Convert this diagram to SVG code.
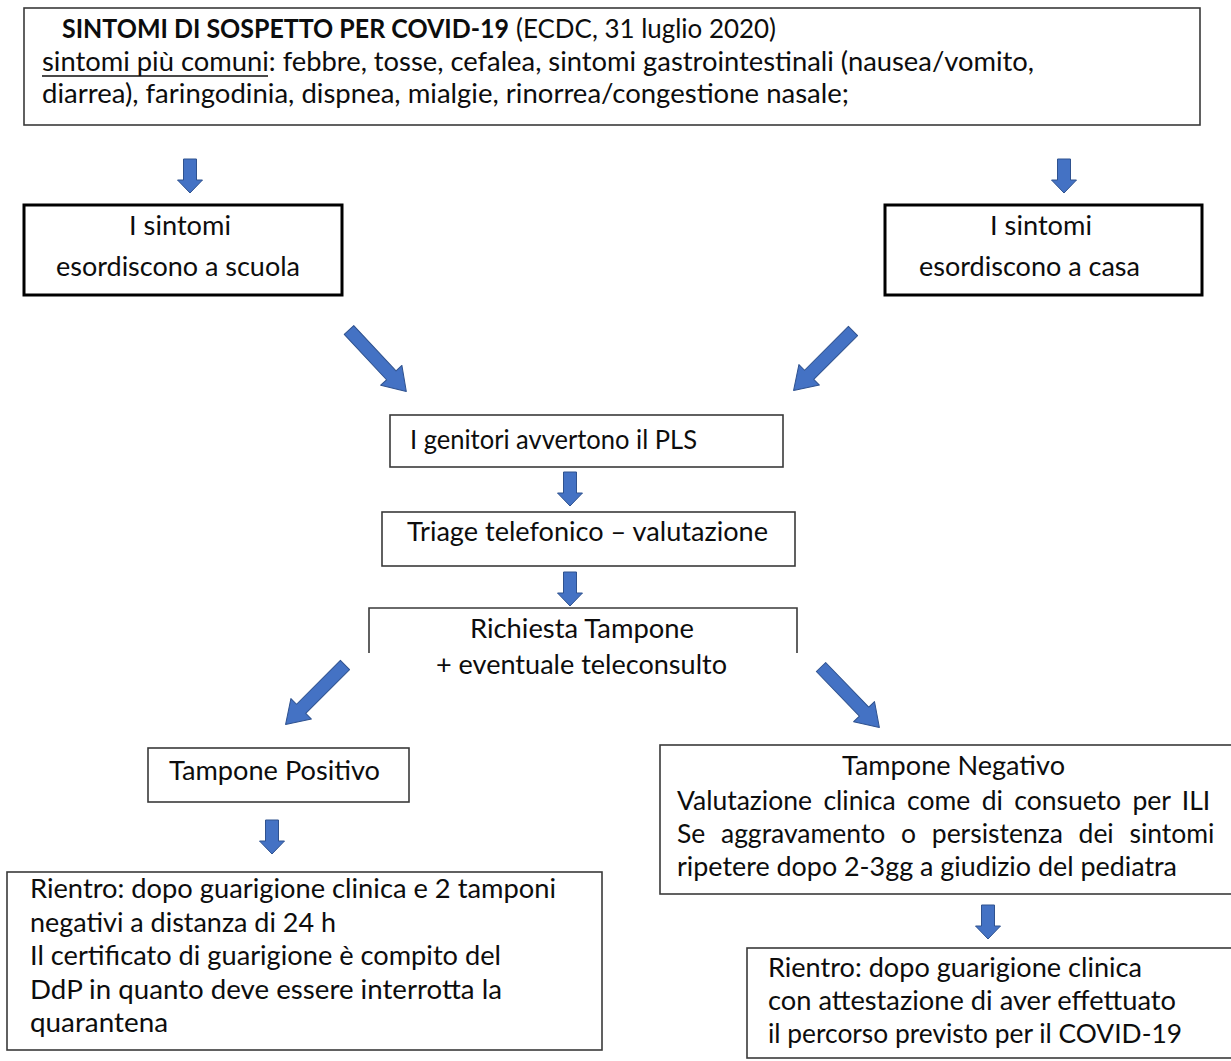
<svg xmlns="http://www.w3.org/2000/svg" width="1231" height="1061" viewBox="0 0 1231 1061">
<style>
.t{font-family:Lato,"Open Sans","Liberation Sans",sans-serif;font-size:26.5px;fill:#0d0d0d}
.b{font-weight:bold}
.box{fill:#fff;stroke:#3a3a3a;stroke-width:1.6}
.thick{fill:#fff;stroke:#000;stroke-width:3}
.arr{fill:#4472C4;stroke:#2F528F;stroke-width:1;stroke-linejoin:round}
</style>
<defs>
<path id="down" class="arr" d="M-6.5,0 H6.5 V21 H12.5 L0,34 L-12.5,21 H-6.5 Z"/>
<path id="diag" class="arr" d="M0,-6.5 H62 V-14.5 L84,0 L62,14.5 V6.5 H0 Z"/>
</defs>
<rect width="1231" height="1061" fill="#fff"/>

<g id="connectors">
<use href="#down" x="190" y="159"/>
<use href="#down" x="1064" y="159"/>
<use href="#down" x="570" y="472"/>
<use href="#down" x="570" y="572"/>
<use href="#down" x="272" y="820"/>
<use href="#down" x="988" y="905"/>
<use href="#diag" transform="translate(349,330) rotate(47)"/>
<use href="#diag" transform="translate(853,331) rotate(135)"/>
<use href="#diag" transform="translate(345,665) rotate(135)"/>
<use href="#diag" transform="translate(821,667) rotate(46)"/>
</g>

<g id="node-sintomi">
<rect class="box" x="24" y="8" width="1176" height="117"/>
<text class="t b" x="62" y="38" textLength="447" lengthAdjust="spacingAndGlyphs">SINTOMI DI SOSPETTO PER COVID-19</text>
<text class="t" x="516" y="38" textLength="260" lengthAdjust="spacingAndGlyphs">(ECDC, 31 luglio 2020)</text>
<text class="t" x="42" y="71" textLength="992" lengthAdjust="spacingAndGlyphs">sintomi più comuni: febbre, tosse, cefalea, sintomi gastrointestinali (nausea/vomito,</text>
<line x1="42" y1="76" x2="268" y2="76" stroke="#0d0d0d" stroke-width="1.6"/>
<text class="t" x="42" y="103" textLength="807" lengthAdjust="spacingAndGlyphs">diarrea), faringodinia, dispnea, mialgie, rinorrea/congestione nasale;</text>
</g>

<g id="node-scuola">
<rect class="thick" x="24" y="205" width="318" height="90"/>
<text class="t" x="129" y="235" textLength="102" lengthAdjust="spacingAndGlyphs">I sintomi</text>
<text class="t" x="56" y="276" textLength="244" lengthAdjust="spacingAndGlyphs">esordiscono a scuola</text>
</g>

<g id="node-casa">
<rect class="thick" x="885" y="205" width="317" height="90"/>
<text class="t" x="990" y="235" textLength="102" lengthAdjust="spacingAndGlyphs">I sintomi</text>
<text class="t" x="919" y="276" textLength="221" lengthAdjust="spacingAndGlyphs">esordiscono a casa</text>
</g>

<g id="node-pls">
<rect class="box" x="390" y="415" width="393" height="52"/>
<text class="t" x="410" y="449" textLength="287" lengthAdjust="spacingAndGlyphs">I genitori avvertono il PLS</text>
</g>

<g id="node-triage">
<rect class="box" x="382" y="512" width="413" height="54"/>
<text class="t" x="407" y="541" textLength="361" lengthAdjust="spacingAndGlyphs">Triage telefonico – valutazione</text>
</g>

<g id="node-richiesta">
<path d="M369,653 V608 H797 V653" fill="none" stroke="#3a3a3a" stroke-width="1.6"/>
<text class="t" x="470" y="638" textLength="224" lengthAdjust="spacingAndGlyphs">Richiesta Tampone</text>
<text class="t" x="436" y="674" textLength="291" lengthAdjust="spacingAndGlyphs">+ eventuale teleconsulto</text>
</g>

<g id="node-positivo">
<rect class="box" x="148" y="748" width="261" height="54"/>
<text class="t" x="169" y="780" textLength="211" lengthAdjust="spacingAndGlyphs">Tampone Positivo</text>
</g>

<g id="node-rientro-pos">
<rect class="box" x="7" y="872" width="595" height="178"/>
<text class="t" x="30" y="898" textLength="526" lengthAdjust="spacingAndGlyphs">Rientro: dopo guarigione clinica e 2 tamponi</text>
<text class="t" x="30" y="932" textLength="306" lengthAdjust="spacingAndGlyphs">negativi a distanza di 24 h</text>
<text class="t" x="30" y="965" textLength="471" lengthAdjust="spacingAndGlyphs">Il certificato di guarigione è compito del</text>
<text class="t" x="30" y="999" textLength="472" lengthAdjust="spacingAndGlyphs">DdP in quanto deve essere interrotta la</text>
<text class="t" x="30" y="1032" textLength="138" lengthAdjust="spacingAndGlyphs">quarantena</text>
</g>

<g id="node-negativo">
<rect class="box" x="660" y="745" width="580" height="149"/>
<text class="t" x="842" y="775" textLength="223" lengthAdjust="spacingAndGlyphs">Tampone Negativo</text>
<text class="t" x="677" y="810" word-spacing="4.6">Valutazione clinica come di consueto per ILI</text>
<text class="t" x="677" y="843" word-spacing="8.9">Se aggravamento o persistenza dei sintomi</text>
<text class="t" x="677" y="876" textLength="500" lengthAdjust="spacingAndGlyphs">ripetere dopo 2-3gg a giudizio del pediatra</text>
</g>

<g id="node-rientro-neg">
<rect class="box" x="747" y="948" width="490" height="110"/>
<text class="t" x="768" y="977" textLength="374" lengthAdjust="spacingAndGlyphs">Rientro: dopo guarigione clinica</text>
<text class="t" x="768" y="1010" textLength="408" lengthAdjust="spacingAndGlyphs">con attestazione di aver effettuato</text>
<text class="t" x="768" y="1043" textLength="414" lengthAdjust="spacingAndGlyphs">il percorso previsto per il COVID-19</text>
</g>
</svg>
